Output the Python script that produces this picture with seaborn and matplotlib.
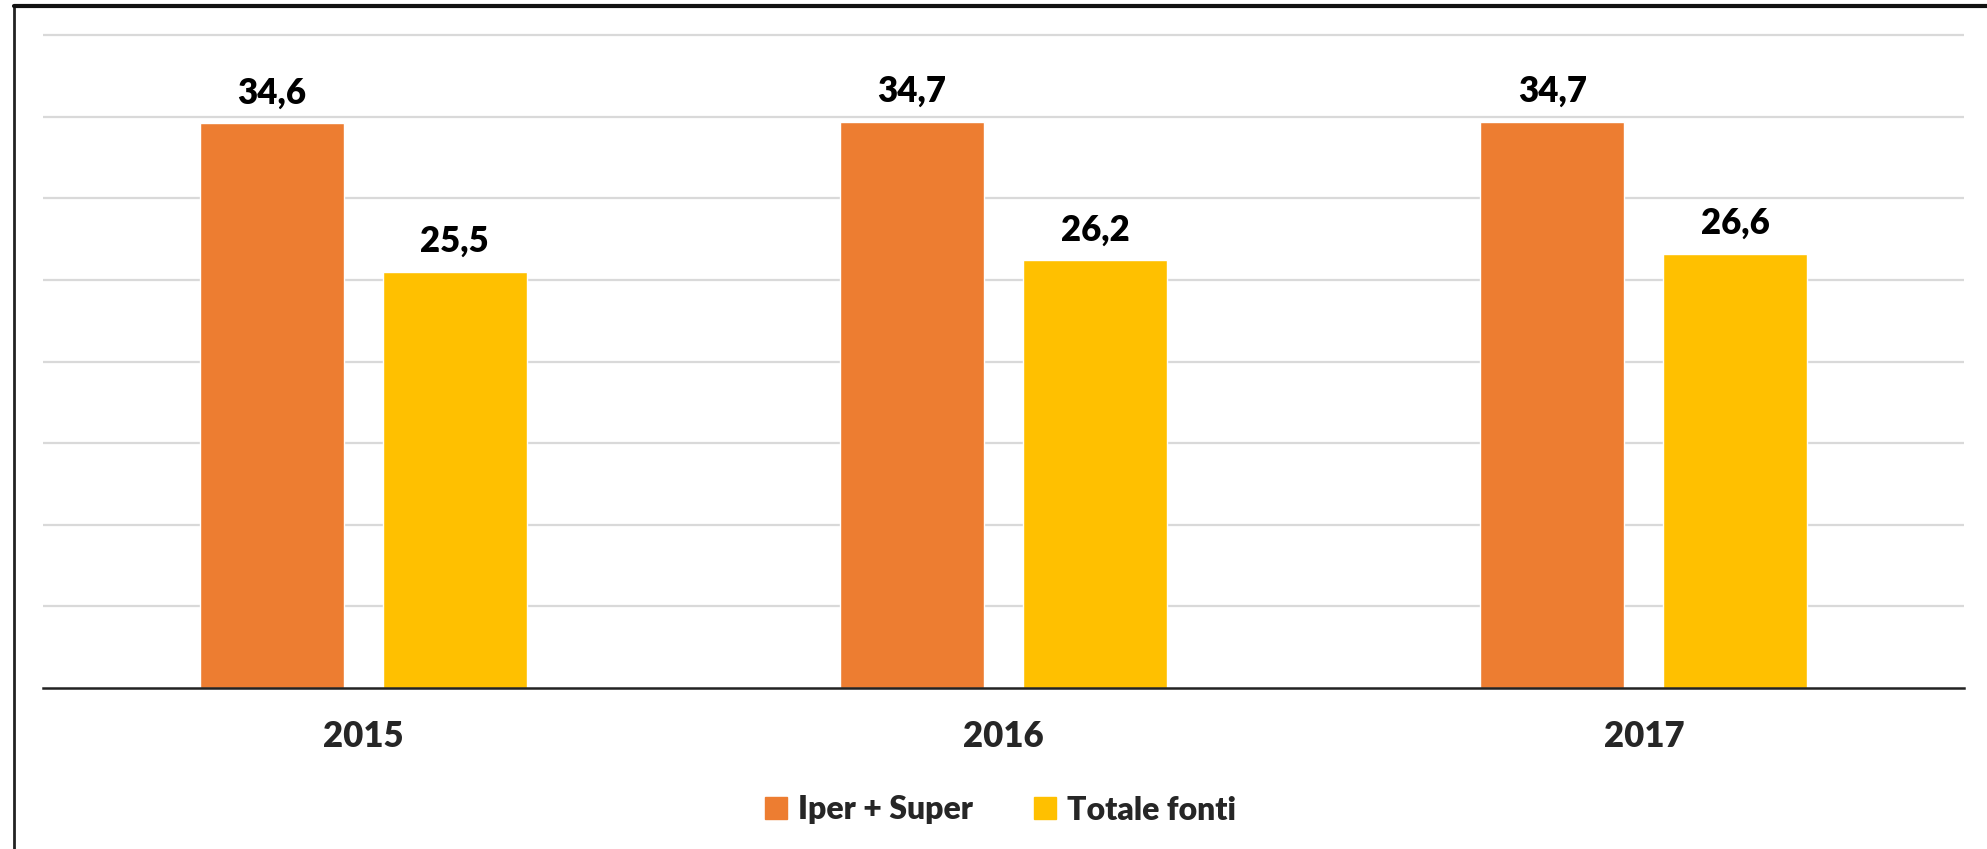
import matplotlib
matplotlib.use("Agg")
import matplotlib.pyplot as plt
from matplotlib.lines import Line2D
import seaborn as sns
import pandas as pd

years = ["2015", "2016", "2017"]
series_names = ["Iper + Super", "Totale fonti"]
iper_super = [34.6, 34.7, 34.7]
totale_fonti = [25.5, 26.2, 26.6]
colors = ["#ED7D31", "#FFC000"]

df = pd.DataFrame({
    "year": years * 2,
    "serie": [series_names[0]] * 3 + [series_names[1]] * 3,
    "value": iper_super + totale_fonti,
})

sns.set_theme(style="white")
plt.rcParams["font.family"] = ["Lato", "DejaVu Sans"]
plt.rcParams["font.weight"] = "heavy"
W = "heavy"

fig = plt.figure(figsize=(19.87, 8.49), dpi=100)
ax = fig.add_axes([43 / 1987, 1 - 688 / 849, (1964 - 43) / 1987, 669 / 849])

sns.barplot(data=df, x="year", y="value", hue="serie", palette=colors,
            width=0.572, gap=0.213, ax=ax, legend=False, saturation=1)

ax.set_ylim(0, 41)
ax.set_xlim(-0.5, 2.5)
ax.set_yticks([5, 10, 15, 20, 25, 30, 35, 40])
ax.yaxis.grid(True, color="#D9D9D9", linewidth=1.6)
ax.set_axisbelow(True)
ax.tick_params(axis="y", left=False, labelleft=False)
ax.tick_params(axis="x", bottom=False, labelsize=25, pad=17)
for lbl in ax.get_xticklabels():
    lbl.set_fontweight(W)
ax.set_xlabel("")
ax.set_ylabel("")
for s in ["top", "right", "left"]:
    ax.spines[s].set_visible(False)
ax.spines["bottom"].set_color("#222222")
ax.spines["bottom"].set_linewidth(1.8)

for cont in ax.containers:
    labels = [f"{v:.1f}".replace(".", ",") for v in cont.datavalues]
    ax.bar_label(cont, labels=labels, padding=10, fontsize=25,
                 fontweight=W, color="black")

handles = [plt.Rectangle((0, 0), 1, 1, color=c) for c in colors]
fig.legend(handles, series_names, loc="center", bbox_to_anchor=(0.5035, 1 - 810 / 849),
           ncol=2, frameon=False, handlelength=0.68, handleheight=0.68,
           handletextpad=0.35, columnspacing=1.9, prop={"weight": W, "size": 23})

# outer frame (top and left only visible)
fig.add_artist(Line2D([14 / 1987, 14 / 1987], [0, 1 - 6 / 849], color="#222222",
                      linewidth=2, transform=fig.transFigure))
fig.add_artist(Line2D([14 / 1987, 1], [1 - 6 / 849, 1 - 6 / 849], color="#111111",
                      linewidth=3, transform=fig.transFigure))

fig.savefig("out.png", dpi=100)
